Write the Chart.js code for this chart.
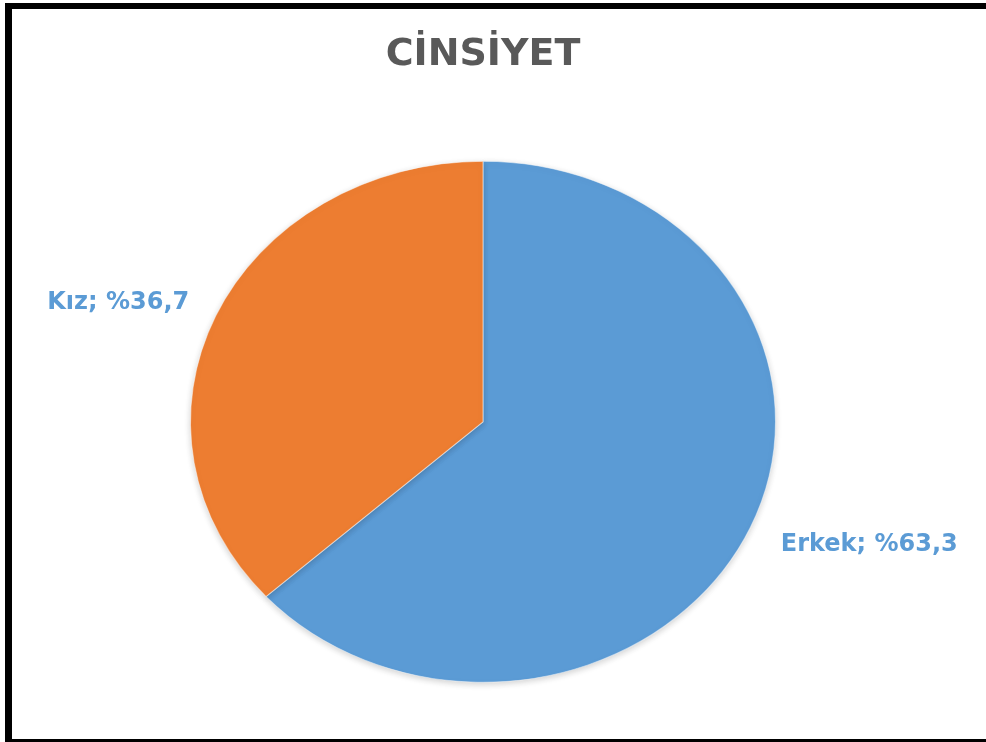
<!DOCTYPE html>
<html lang="tr">
<head>
<meta charset="utf-8">
<title>CİNSİYET</title>
<script src="https://cdn.jsdelivr.net/npm/chart.js@4/dist/chart.umd.min.js"></script>
<style>
  html, body { margin: 0; padding: 0; background: #fff; }
  #wrap { position: relative; width: 986px; height: 742px; }
</style>
</head>
<body>
<div id="wrap"><canvas id="pie"></canvas></div>
<script>
const chartTitle = 'CİNSİYET';
const categories = ['Erkek', 'Kız'];
const shares = [63.3, 36.7];
const sliceColors = ['#5B9BD5', '#ED7D31'];

// Excel-style percentage text: "%63,3"
const fmtShare = v => '%' + v.toFixed(1).replace('.', ',');

// horizontal stretch of the pie (it is drawn as a wide ellipse)
const STRETCH_X = 1.123;

const framePlugin = {
  id: 'frame',
  beforeDraw(chart) {
    const ctx = chart.ctx;
    ctx.save();
    ctx.fillStyle = '#ffffff';
    ctx.fillRect(0, 0, chart.width, chart.height);
    ctx.fillStyle = '#000000';
    ctx.fillRect(5, 3, chart.width - 5, 6);   // top edge
    ctx.fillRect(5, 3, 7, chart.height - 3);  // left edge
    ctx.fillRect(5, 739, chart.width - 5, 3); // bottom edge
    ctx.restore();
  }
};

const stretchPlugin = {
  id: 'stretch',
  beforeDatasetsDraw(chart) {
    const ctx = chart.ctx;
    const arc = chart.getDatasetMeta(0).data[0];
    ctx.save();
    ctx.translate(arc.x, arc.y);
    ctx.scale(STRETCH_X, 1);
    ctx.translate(-arc.x, -arc.y);
    ctx.shadowColor = 'rgba(0,0,0,0.18)';
    ctx.shadowBlur = 6;
    ctx.shadowOffsetY = 2;
  },
  afterDatasetsDraw(chart) {
    chart.ctx.restore();
  }
};

const labelPlugin = {
  id: 'sliceLabels',
  afterDatasetsDraw(chart) {
    const ctx = chart.ctx;
    const meta = chart.getDatasetMeta(0);
    ctx.save();
    ctx.font = 'bold 24px "DejaVu Sans", sans-serif';
    ctx.fillStyle = '#5B9BD5';
    ctx.textBaseline = 'middle';
    meta.data.forEach((arc, i) => {
      const mid = (arc.startAngle + arc.endAngle) / 2;
      const r = arc.outerRadius;
      const dx = Math.cos(mid), dy = Math.sin(mid);
      const px = arc.x + dx * r * STRETCH_X;
      const py = arc.y + dy * r;
      const gap = 30;
      const x = px + dx * gap + (dx >= 0 ? 3 : 1);
      const y = py + dy * gap + (dx >= 0 ? 5 : -1);
      ctx.textAlign = dx >= 0 ? 'left' : 'right';
      ctx.fillText(categories[i] + '; ' + fmtShare(shares[i]), x, y);
    });
    ctx.restore();
  }
};

new Chart(document.getElementById('pie'), {
  type: 'pie',
  data: {
    labels: categories,
    datasets: [{
      data: shares,
      backgroundColor: sliceColors,
      borderColor: 'rgba(255,255,255,0.5)',
      borderWidth: 1
    }]
  },
  options: {
    responsive: true,
    maintainAspectRatio: false,
    animation: false,
    layout: { padding: { left: 222, right: 242, top: 0, bottom: 59 } },
    plugins: {
      legend: { display: false },
      tooltip: { enabled: false },
      title: {
        display: true,
        text: chartTitle,
        color: '#595959',
        font: { family: '"DejaVu Sans", sans-serif', size: 38, weight: 'bold' },
        padding: { top: 32, bottom: 83 }
      }
    }
  },
  plugins: [framePlugin, stretchPlugin, labelPlugin]
});
</script>
</body>
</html>
